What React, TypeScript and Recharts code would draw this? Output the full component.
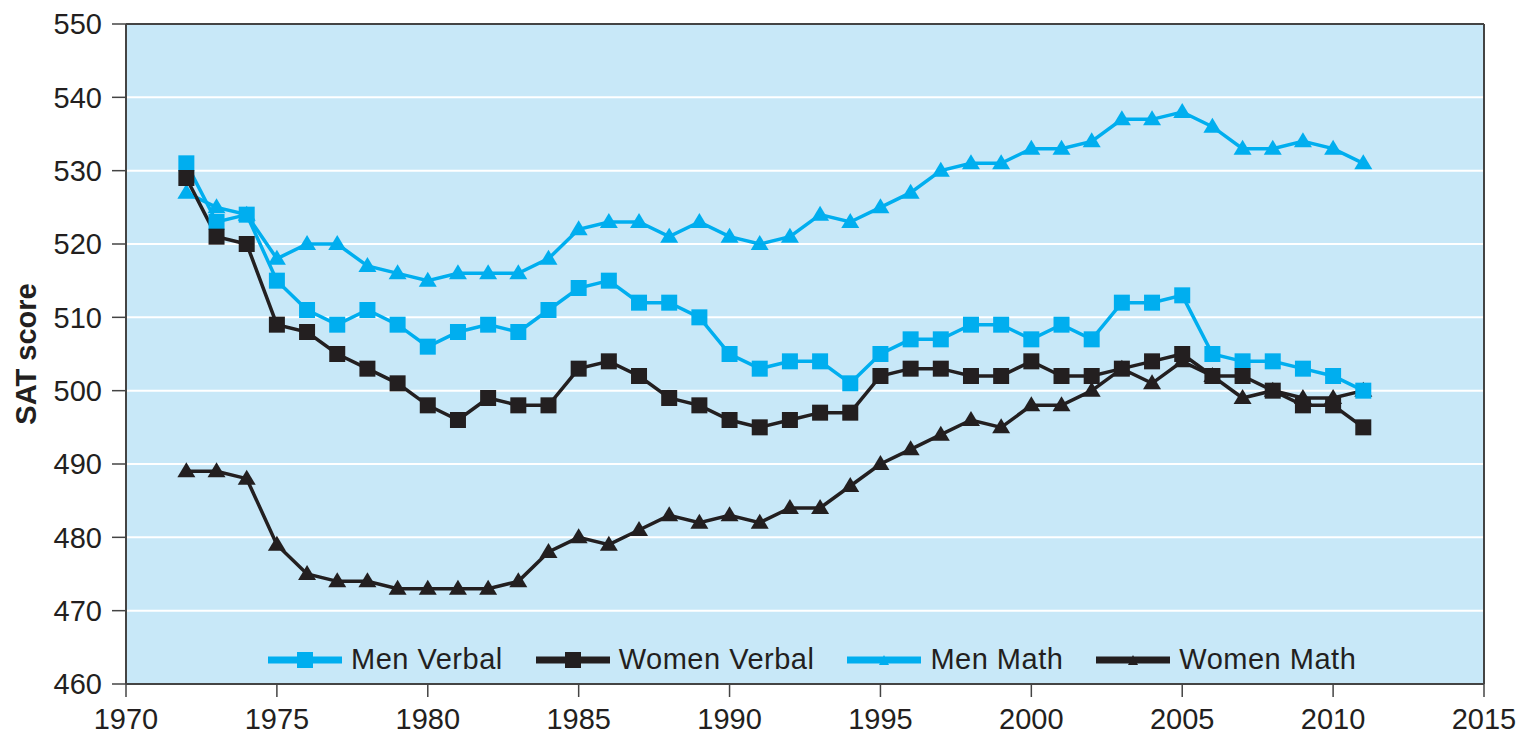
import React from 'react';
import { LineChart, Line, XAxis, YAxis, CartesianGrid, ReferenceLine } from 'recharts';

const years = [
  1972, 1973, 1974, 1975, 1976, 1977, 1978, 1979, 1980, 1981,
  1982, 1983, 1984, 1985, 1986, 1987, 1988, 1989, 1990, 1991,
  1992, 1993, 1994, 1995, 1996, 1997, 1998, 1999, 2000, 2001,
  2002, 2003, 2004, 2005, 2006, 2007, 2008, 2009, 2010, 2011,
];

const menVerbal = [
  531, 523, 524, 515, 511, 509, 511, 509, 506, 508,
  509, 508, 511, 514, 515, 512, 512, 510, 505, 503,
  504, 504, 501, 505, 507, 507, 509, 509, 507, 509,
  507, 512, 512, 513, 505, 504, 504, 503, 502, 500,
];

const womenVerbal = [
  529, 521, 520, 509, 508, 505, 503, 501, 498, 496,
  499, 498, 498, 503, 504, 502, 499, 498, 496, 495,
  496, 497, 497, 502, 503, 503, 502, 502, 504, 502,
  502, 503, 504, 505, 502, 502, 500, 498, 498, 495,
];

const menMath = [
  527, 525, 524, 518, 520, 520, 517, 516, 515, 516,
  516, 516, 518, 522, 523, 523, 521, 523, 521, 520,
  521, 524, 523, 525, 527, 530, 531, 531, 533, 533,
  534, 537, 537, 538, 536, 533, 533, 534, 533, 531,
];

const womenMath = [
  489, 489, 488, 479, 475, 474, 474, 473, 473, 473,
  473, 474, 478, 480, 479, 481, 483, 482, 483, 482,
  484, 484, 487, 490, 492, 494, 496, 495, 498, 498,
  500, 503, 501, 504, 502, 499, 500, 499, 499, 500,
];

const xTicks = [1970, 1975, 1980, 1985, 1990, 1995, 2000, 2005, 2010, 2015];
const yTicks = [460, 470, 480, 490, 500, 510, 520, 530, 540, 550];

const BLUE = '#00aeef';
const BLACK = '#231f20';
const BG = '#c8e8f8';
const TEXT = '#231f20';
const FONT = '"Liberation Sans", Arial, Helvetica, sans-serif';

const data = years.map((year, i) => ({
  year,
  menVerbal: menVerbal[i],
  womenVerbal: womenVerbal[i],
  menMath: menMath[i],
  womenMath: womenMath[i],
}));

const squareDot = (color: string) => (props: any) => {
  const { cx, cy, index } = props;
  if (cx == null || cy == null) return <g key={index} />;
  return <rect key={index} x={cx - 8} y={cy - 8} width={16} height={16} fill={color} />;
};

const triangleDot = (color: string) => (props: any) => {
  const { cx, cy, index } = props;
  if (cx == null || cy == null) return <g key={index} />;
  return (
    <path
      key={index}
      d={`M${cx},${cy - 9} L${cx + 9},${cy + 6} L${cx - 9},${cy + 6} Z`}
      fill={color}
    />
  );
};

const legendItems = [
  { name: 'Men Verbal', color: BLUE, marker: 'square' },
  { name: 'Women Verbal', color: BLACK, marker: 'square' },
  { name: 'Men Math', color: BLUE, marker: 'triangle' },
  { name: 'Women Math', color: BLACK, marker: 'triangle' },
];

const ChartLegend = () => (
  <div
    style={{
      position: 'absolute',
      left: 268,
      top: 643,
      display: 'flex',
      alignItems: 'center',
      fontFamily: FONT,
      fontSize: 29,
      color: TEXT,
      whiteSpace: 'nowrap',
    }}
  >
    {legendItems.map((item) => (
      <div key={item.name} style={{ display: 'flex', alignItems: 'center', marginRight: 33 }}>
        <svg width={74} height={20} style={{ marginRight: 9 }}>
          <line x1={0} y1={10} x2={74} y2={10} stroke={item.color} strokeWidth={7} />
          {item.marker === 'square' ? (
            <rect x={29} y={2} width={16} height={16} fill={item.color} />
          ) : (
            <path d="M37,5 L42,15 L32,15 Z" fill={item.color} />
          )}
        </svg>
        <span style={{ letterSpacing: 0.5 }}>{item.name}</span>
      </div>
    ))}
  </div>
);

const App: React.FC = () => {
  const tick = { fill: TEXT, fontSize: 29, fontFamily: FONT };
  return (
    <div style={{ position: 'absolute', left: 0, top: 0, width: 1521, height: 737, background: '#fff' }}>
      <LineChart
        width={1521}
        height={737}
        data={data}
        margin={{ top: 24, right: 37, bottom: 0, left: 0 }}
      >
        <CartesianGrid
          vertical={false}
          horizontalValues={yTicks}
          stroke="#ffffff"
          strokeWidth={2}
          fill={BG}
          fillOpacity={1}
        />
        <XAxis
          dataKey="year"
          type="number"
          domain={[1970, 2015]}
          ticks={xTicks}
          allowDataOverflow
          tick={tick}
          tickSize={13}
          tickMargin={11}
          axisLine={{ stroke: '#444', strokeWidth: 2 }}
          tickLine={{ stroke: '#444', strokeWidth: 1.5 }}
          height={53}
        />
        <YAxis
          type="number"
          domain={[460, 550]}
          ticks={yTicks}
          allowDataOverflow
          width={126}
          tick={tick}
          tickSize={14}
          tickMargin={10}
          axisLine={{ stroke: '#444', strokeWidth: 2 }}
          tickLine={{ stroke: '#444', strokeWidth: 1.5 }}
          label={{
            value: 'SAT score',
            angle: -90,
            position: 'insideLeft',
            offset: 26,
            style: { fill: TEXT, fontSize: 29, fontWeight: 'bold', fontFamily: FONT, textAnchor: 'middle' },
          }}
        />
        <ReferenceLine y={550} stroke="#444" strokeWidth={2} />
        <ReferenceLine x={2015} stroke="#444" strokeWidth={2} />
        <Line
          dataKey="womenMath"
          name="Women Math"
          stroke={BLACK}
          strokeWidth={3.5}
          dot={triangleDot(BLACK)}
          isAnimationActive={false}
        />
        <Line
          dataKey="menMath"
          name="Men Math"
          stroke={BLUE}
          strokeWidth={3.5}
          dot={triangleDot(BLUE)}
          isAnimationActive={false}
        />
        <Line
          dataKey="menVerbal"
          name="Men Verbal"
          stroke={BLUE}
          strokeWidth={3.5}
          dot={squareDot(BLUE)}
          isAnimationActive={false}
        />
        <Line
          dataKey="womenVerbal"
          name="Women Verbal"
          stroke={BLACK}
          strokeWidth={3.5}
          dot={squareDot(BLACK)}
          isAnimationActive={false}
        />
      </LineChart>
      <ChartLegend />
    </div>
  );
};

export default App;
